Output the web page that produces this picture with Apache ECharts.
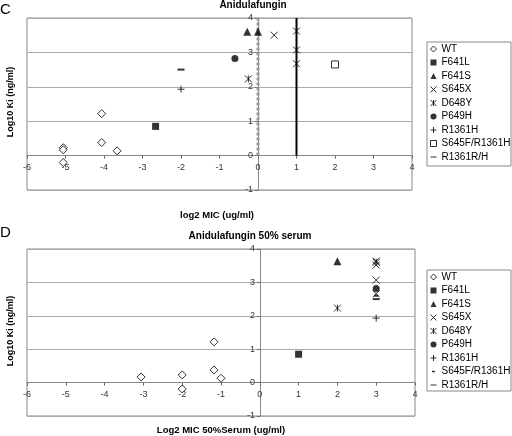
<!DOCTYPE html>
<html>
<head>
<meta charset="utf-8">
<script src="https://cdn.jsdelivr.net/npm/echarts@6/dist/echarts.min.js"></script>
<style>
html,body{margin:0;padding:0;background:#fff;}
#chart{width:512px;height:436px;}
</style>
</head>
<body>
<div id="chart"></div>
<script>
// ---------- data ----------
var seriesNames = ['WT','F641L','F641S','S645X','D648Y','P649H','R1361H','S645F/R1361H','R1361R/H'];
var xTicks = [-6,-5,-4,-3,-2,-1,0,1,2,3,4];
var yTicks = [-1,0,1,2,3,4];

// Panel C: Anidulafungin
var wtC      = [[-5.06,0.23],[-5.06,0.17],[-5.06,-0.2],[-4.06,1.22],[-4.06,0.38],[-3.66,0.14]];
var f641lC   = [[-2.66,0.85]];
var f641sC   = [[-0.28,3.6],[0,3.6]];
var s645xC   = [[0.42,3.5],[1,3.62],[1,3.07],[1,2.67]];
var d648yC   = [[-0.25,2.23]];
var p649hC   = [[-0.6,2.82]];
var r1361hC  = [[-2,1.93]];
var s645fC   = [[2,2.65]];
var r1361rhC = [[-2,2.5]];
var dashLineC  = [[0,0],[0,4]];
var solidLineC = [[1,0],[1,4]];

// Panel D: Anidulafungin 50% serum
var wtD      = [[-3.06,0.17],[-2,0.23],[-2,-0.19],[-1.18,1.22],[-1.18,0.38],[-1,0.13]];
var f641lD   = [[1,0.85]];
var f641sD   = [[2,3.63]];
var s645xD   = [[3,3.64],[3,3.52],[3,3.07],[3,2.66]];
var d648yD   = [[2,2.23],[3,3.6]];
var p649hD   = [[3,2.82]];
var r1361hD  = [[3,1.93]];
var s645fD   = [[3,2.6]];
var r1361rhD = [[3,2.5]];

// ---------- styles ----------
var FONT = "'Liberation Sans', Arial, sans-serif";
var X_PATH = 'path://M0,0L10,10M10,0L0,10';
var AST_PATH = 'path://M0,0L10,10M10,0L0,10M5,0L5,10';
var PLUS_PATH = 'path://M5,0L5,10M0,5L10,5';
var DASH_ICON = 'path://M0,0h0.01v0.01h-0.01Z M0,4.2h10v1.8h-10Z M9.99,9.99h0.01v0.01h-0.01Z';
var SHORT_DASH_ICON = 'path://M0,0h0.01v0.01h-0.01Z M2.5,3.9h5v2.4h-5Z M9.99,9.99h0.01v0.01h-0.01Z';

var styles = {
  'WT':          {symbol:'diamond', size:8, itemStyle:{color:'#fff', borderColor:'#000', borderWidth:1}},
  'F641L':       {symbol:'rect', size:7, itemStyle:{color:'#000'}},
  'F641S':       {symbol:'triangle', size:8, itemStyle:{color:'#000'}},
  'S645X':       {symbol:X_PATH, size:7, itemStyle:{color:'none', borderColor:'#000', borderWidth:1}},
  'D648Y':       {symbol:AST_PATH, size:7, itemStyle:{color:'none', borderColor:'#000', borderWidth:1}},
  'P649H':       {symbol:'circle', size:7, itemStyle:{color:'#000'}},
  'R1361H':      {symbol:PLUS_PATH, size:7, itemStyle:{color:'none', borderColor:'#000', borderWidth:1}},
  'S645F/R1361H':{symbol:'rect', size:7, itemStyle:{color:'#fff', borderColor:'#000', borderWidth:1}},
  'R1361R/H':    {symbol:'rect', size:[7,2], icon:DASH_ICON, itemStyle:{color:'#000', borderWidth:0}}
};
var stylesD = Object.assign({}, styles, {
  'S645F/R1361H':{symbol:'rect', size:[4,2], icon:SHORT_DASH_ICON, itemStyle:{color:'#000', borderWidth:0}}
});

function scatter(name, data, idx, st) {
  var s = st[name];
  return {type:'scatter', name:name, xAxisIndex:idx, yAxisIndex:idx, data:data,
    symbol:s.symbol, symbolSize:s.size, itemStyle:s.itemStyle, z:5};
}

function legendFor(st, top) {
  return {
    orient:'vertical', left:428, top:top, padding:0,
    itemWidth:6, itemHeight:6, itemGap:1.5,
    textStyle:{fontFamily:FONT, fontSize:10, color:'#000', lineHeight:12},
    selectedMode:false,
    data: seriesNames.map(function(n){
      var s = st[n];
      return {name:n, icon:s.icon || s.symbol, itemStyle:s.itemStyle};
    })
  };
}

function xAxis(idx, m) {
  return {type:'value', gridIndex:idx, min:-6, max:4, interval:1,
    axisLine:{show:true, onZero:true, lineStyle:{color:'#888', width:1}},
    axisTick:{show:true, length:3, lineStyle:{color:'#666'}},
    axisLabel:{fontFamily:FONT, fontSize:9, color:'#333', margin:m,
      formatter:function(v){return xTicks.indexOf(v)>=0 ? String(v) : '';}},
    splitLine:{show:false}};
}
function yAxis(idx, m) {
  return {type:'value', gridIndex:idx, min:-1, max:4, interval:1,
    axisLine:{show:true, onZero:true, lineStyle:{color:'#888', width:1}},
    axisTick:{show:true, length:3, lineStyle:{color:'#666'}},
    axisLabel:{fontFamily:FONT, fontSize:9, color:'#333', margin:m,
      formatter:function(v){return yTicks.indexOf(v)>=0 ? String(v) : '';}},
    splitLine:{show:true, lineStyle:{color:'#aaa', width:1}}};
}

var series = [];
series.push({type:'line', xAxisIndex:0, yAxisIndex:0, data:dashLineC, symbol:'none', silent:true,
  lineStyle:{color:'#999', width:3, type:[3,2]}, z:3});
series.push({type:'line', xAxisIndex:0, yAxisIndex:0, data:solidLineC, symbol:'none', silent:true,
  lineStyle:{color:'#000', width:2}, z:3});
var dataC = [wtC,f641lC,f641sC,s645xC,d648yC,p649hC,r1361hC,s645fC,r1361rhC];
var dataD = [wtD,f641lD,f641sD,s645xD,d648yD,p649hD,r1361hD,s645fD,r1361rhD];
seriesNames.forEach(function(n,i){ series.push(scatter(n, dataC[i], 0, styles)); });
seriesNames.forEach(function(n,i){ series.push(scatter(n, dataD[i], 1, stylesD)); });

var boldText = {fontFamily:FONT, fontWeight:'bold', fontSize:9.5, fill:'#000'};

var option = {
  animation:false,
  backgroundColor:'#fff',
  grid:[
    {left:27, top:18, width:385, height:172, show:true, borderColor:'#888', borderWidth:1, backgroundColor:'#fff'},
    {left:27, top:249, width:388, height:167, show:true, borderColor:'#888', borderWidth:1, backgroundColor:'#fff'}
  ],
  xAxis:[xAxis(0, -27), xAxis(1, -26)],
  yAxis:[yAxis(0, -226), yAxis(1, -228)],
  legend:[legendFor(styles, 43), legendFor(stylesD, 271)],
  series:series,
  graphic:[
    {type:'rect', shape:{x:427, y:42, width:84, height:124}, style:{fill:'#fff', stroke:'#888', lineWidth:1}, z:-1},
    {type:'rect', shape:{x:427, y:270, width:84, height:121}, style:{fill:'#fff', stroke:'#888', lineWidth:1}, z:-1},
    {type:'text', left:0, top:2, style:{text:'C', font:'15px ' + FONT, fill:'#000'}},
    {type:'text', left:0, top:225, style:{text:'D', font:'15px ' + FONT, fill:'#000'}},
    {type:'text', x:253, y:5, style:Object.assign({}, boldText, {text:'Anidulafungin', fontSize:10, align:'center', verticalAlign:'middle'})},
    {type:'text', x:250, y:236, style:Object.assign({}, boldText, {text:'Anidulafungin 50% serum', fontSize:10, align:'center', verticalAlign:'middle'})},
    {type:'text', x:217, y:215, style:Object.assign({}, boldText, {text:'log2 MIC (ug/ml)', align:'center', verticalAlign:'middle'})},
    {type:'text', x:221, y:430, style:Object.assign({}, boldText, {text:'Log2 MIC 50%Serum (ug/ml)', align:'center', verticalAlign:'middle'})},
    {type:'text', x:11, y:102, rotation:Math.PI/2, style:Object.assign({}, boldText, {text:'Log10 Ki (ng/ml)', fontSize:9, align:'center', verticalAlign:'middle'})},
    {type:'text', x:11, y:331, rotation:Math.PI/2, style:Object.assign({}, boldText, {text:'Log10 Ki (ng/ml)', fontSize:9, align:'center', verticalAlign:'middle'})}
  ]
};

var chart = echarts.init(document.getElementById('chart'), null, {renderer:'canvas'});
chart.setOption(option);
</script>
</body>
</html>
